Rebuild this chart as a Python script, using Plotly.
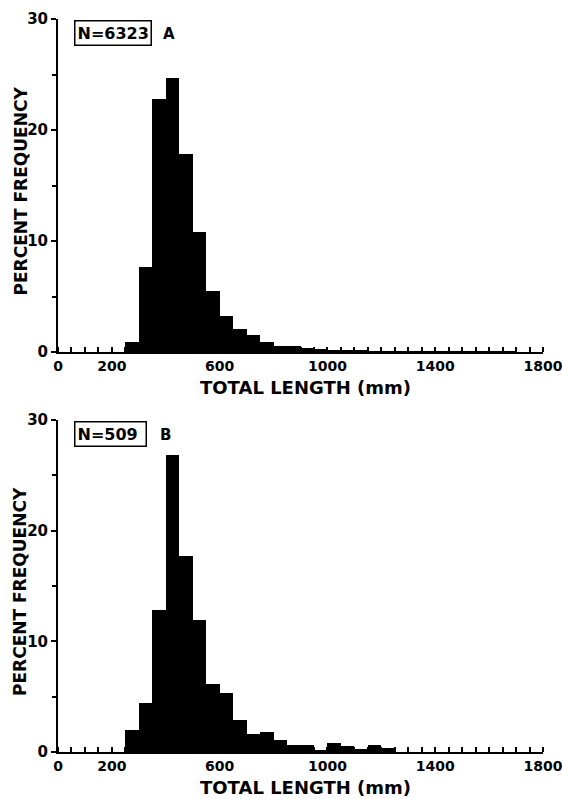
import plotly.graph_objects as go

bin_width = 50
bins_a = [250, 300, 350, 400, 450, 500, 550, 600, 650, 700, 750, 800, 850, 900, 950,
          1000, 1050, 1100, 1150, 1200, 1250, 1300, 1350, 1400, 1450, 1500, 1550, 1600, 1650]
pct_a = [0.9, 7.7, 22.8, 24.7, 17.8, 10.8, 5.5, 3.2, 2.1, 1.5, 0.9, 0.55, 0.55, 0.35, 0.25,
         0.15, 0.12, 0.1, 0.08, 0.08, 0.06, 0.05, 0.05, 0.03, 0.03, 0.03, 0.02, 0.02, 0.02]

bins_b = [250, 300, 350, 400, 450, 500, 550, 600, 650, 700, 750, 800, 850, 900, 950,
          1000, 1050, 1100, 1150, 1200]
pct_b = [2.0, 4.4, 12.8, 26.8, 17.7, 11.9, 6.1, 5.3, 2.9, 1.6, 1.8, 1.1, 0.6, 0.6, 0.2,
         0.8, 0.5, 0.3, 0.6, 0.4]

x_tickvals = [0, 200, 600, 1000, 1400, 1800]
y_tickvals = [0, 10, 20, 30]
label_a = "N=6323"
label_b = "N=509 "

FONT = "DejaVu Sans"
fig = go.Figure()
fig.add_trace(go.Bar(x=[b + bin_width / 2 for b in bins_a], y=pct_a, width=bin_width,
                     marker=dict(color="black", line=dict(width=0)), xaxis="x", yaxis="y"))
fig.add_trace(go.Bar(x=[b + bin_width / 2 for b in bins_b], y=pct_b, width=bin_width,
                     marker=dict(color="black", line=dict(width=0)), xaxis="x2", yaxis="y2"))

xdom = [58 / 562, 543 / 562]
ydomA = [1 - 352 / 799, 1 - 19 / 799]
ydomB = [1 - 752 / 799, 1 - 420 / 799]

def xax(anchor, dom):
    return dict(domain=dom, anchor=anchor, range=[0, 1800], showgrid=False, zeroline=False,
                showline=True, linecolor="black", linewidth=2,
                tickmode="array", tickvals=x_tickvals, ticktext=[f"<b>{v}</b>" for v in x_tickvals],
                ticks="", tickfont=dict(family=FONT, size=14, color="black"),
                ticklabeloverflow="allow",
                minor=dict(tickmode="linear", tick0=0, dtick=50, ticks="inside", ticklen=5,
                           tickwidth=1.5, tickcolor="black"),
                automargin=False, fixedrange=True)

def yax(anchor, dom):
    return dict(domain=dom, anchor=anchor, range=[0, 30], showgrid=False, zeroline=False,
                showline=True, linecolor="black", linewidth=2,
                tickmode="array", tickvals=y_tickvals, ticktext=[f"<b>{v}</b>" for v in y_tickvals],
                ticks="outside", ticklen=5, tickwidth=1.5, tickcolor="black",
                tickfont=dict(family=FONT, size=15, color="black"),
                ticklabeloverflow="allow",
                minor=dict(tickmode="linear", tick0=0, dtick=5, ticks="outside", ticklen=4,
                           tickwidth=1.5, tickcolor="black"),
                automargin=False, fixedrange=True)

fig.update_layout(
    width=562, height=799, margin=dict(l=0, r=0, t=0, b=0),
    paper_bgcolor="white", plot_bgcolor="white", showlegend=False, bargap=0,
    xaxis=xax("y", xdom), yaxis=yax("x", ydomA),
    xaxis2=xax("y2", xdom), yaxis2=yax("x2", ydomB),
)

anns = []
for ytop, ybot, lab, letter in [(ydomA[1], ydomA[0], label_a, "A"), (ydomB[1], ydomB[0], label_b, "B")]:
    anns.append(dict(text=f"<b>{lab}</b>", xref="paper", yref="paper", x=74 / 562, y=ytop - 1 / 799,
                     xanchor="left", yanchor="top", showarrow=False, bordercolor="black",
                     borderwidth=1.5, borderpad=2, font=dict(family=FONT, size=16, color="black")))
    anns.append(dict(text=f"<b>{letter}</b>", xref="paper", yref="paper",
                     x=(161 if letter == "A" else 158) / 562, y=ytop - 4 / 799,
                     xanchor="left", yanchor="top", showarrow=False,
                     font=dict(family=FONT, size=15, color="black")))
    anns.append(dict(text="<b>TOTAL LENGTH (mm)</b>", xref="paper", yref="paper", x=305 / 562,
                     y=ybot - 23 / 799, xanchor="center", yanchor="top", showarrow=False,
                     font=dict(family=FONT, size=18, color="black")))
    anns.append(dict(text="<b>PERCENT FREQUENCY</b>", xref="paper", yref="paper", x=20 / 562,
                     y=(ytop + ybot) / 2 - 6 / 799, xanchor="center", yanchor="middle", textangle=-90,
                     showarrow=False, font=dict(family=FONT, size=17, color="black")))
fig.update_layout(annotations=anns)

fig.write_html("out.html")
